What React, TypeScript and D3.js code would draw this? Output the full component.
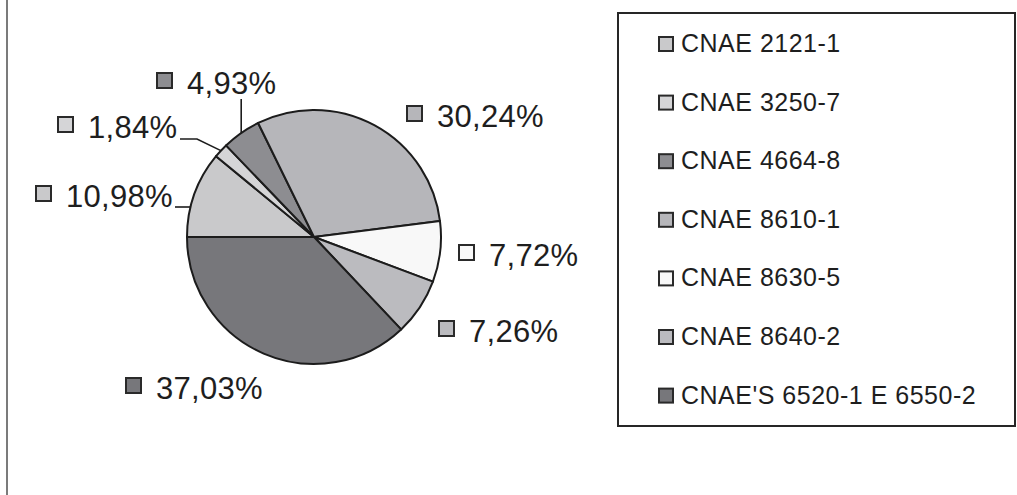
import React from "react";
import * as d3 from "d3";

// Share of each CNAE activity code (percent)
const categories = [
  "CNAE 2121-1",
  "CNAE 3250-7",
  "CNAE 4664-8",
  "CNAE 8610-1",
  "CNAE 8630-5",
  "CNAE 8640-2",
  "CNAE'S 6520-1 E 6550-2",
];
const shares = [10.98, 1.84, 4.93, 30.24, 7.72, 7.26, 37.03];
const fills = ["#c9c9cb", "#d5d5d7", "#8d8d91", "#b6b6ba", "#f8f8f8", "#bbbbbf", "#77777b"];

const W = 1017;
const H = 495;
const CX = 314;
const CY = 237;
const R = 127;
const FONT = "'Liberation Sans', Arial, Helvetica, sans-serif";

// Label placement: text start / baseline, and how each leader line runs
type Leader = "none" | "elbow" | "vertical" | "horizontal";
const labelLayout: { x: number; y: number; leader: Leader; endX?: number }[] = [
  { x: 66, y: 207, leader: "horizontal", endX: 175 },
  { x: 88, y: 138, leader: "elbow", endX: 180 },
  { x: 187, y: 94, leader: "vertical" },
  { x: 437, y: 127, leader: "none" },
  { x: 489, y: 266, leader: "none" },
  { x: 469, y: 342, leader: "none" },
  { x: 156, y: 399, leader: "none" },
];

const fmt = (v: number) => v.toFixed(2).replace(".", ",") + "%";

export default function App() {
  const pie = d3
    .pie<number>()
    .sort(null)
    .value((d) => d)
    .startAngle(1.5 * Math.PI)
    .endAngle(3.5 * Math.PI);
  const arcs = pie(shares);
  const arc = d3.arc<d3.PieArcDatum<number>>().innerRadius(0).outerRadius(R);

  const edgePoint = (a: number): [number, number] => [CX + R * Math.sin(a), CY - R * Math.cos(a)];

  const leaders = arcs.map((a, i) => {
    const lay = labelLayout[i];
    const mid = (a.startAngle + a.endAngle) / 2;
    const [ex, ey] = edgePoint(mid);
    if (lay.leader === "elbow") {
      const sx = lay.endX!;
      const sy = lay.y + 1;
      return d3.line()([
        [sx, sy],
        [sx + 17, sy],
        [ex, ey],
      ]);
    }
    if (lay.leader === "vertical") {
      return d3.line()([
        [ex, lay.y + 5],
        [ex, ey],
      ]);
    }
    if (lay.leader === "horizontal") {
      const y = lay.y;
      const dy = y - CY;
      const x = CX - Math.sqrt(R * R - dy * dy);
      return d3.line()([
        [lay.endX!, y],
        [x, y],
      ]);
    }
    return null;
  });

  const rowStep = 58.6;

  return (
    <svg
      width={W}
      height={H}
      style={{ position: "absolute", left: 0, top: 0, background: "#fff" }}
      fontFamily={FONT}
    >
      {/* chart area edge */}
      <line x1={7} y1={0} x2={7} y2={H} stroke="#5a5a5a" strokeWidth={1.6} />

      {/* slices */}
      <g transform={`translate(${CX},${CY})`}>
        {arcs.map((a, i) => (
          <path key={i} d={arc(a) || ""} fill={fills[i]} stroke="#1c1c1c" strokeWidth={2} strokeLinejoin="round" />
        ))}
      </g>

      {/* leader lines */}
      {leaders.map((d, i) =>
        d ? <path key={i} d={d} fill="none" stroke="#1c1c1c" strokeWidth={1.6} /> : null
      )}

      {/* data labels with colour keys */}
      {shares.map((v, i) => {
        const lay = labelLayout[i];
        return (
          <g key={i}>
            <rect
              x={lay.x - 30}
              y={lay.y - 21}
              width={15}
              height={15}
              fill={fills[i]}
              stroke="#2a2a2a"
              strokeWidth={2}
            />
            <text x={lay.x} y={lay.y} fontSize={31} fill="#1e1e1e" letterSpacing={0.3}>
              {fmt(v)}
            </text>
          </g>
        );
      })}

      {/* legend */}
      <rect x={618} y={13} width={397} height={413} fill="#fff" stroke="#262626" strokeWidth={2} />
      {categories.map((c, i) => {
        const base = 52 + i * rowStep;
        return (
          <g key={c}>
            <rect x={659} y={base - 15} width={14} height={14} fill={fills[i]} stroke="#2a2a2a" strokeWidth={2} />
            <text x={681} y={base} fontSize={25} fill="#1e1e1e" letterSpacing={0.5}>
              {c}
            </text>
          </g>
        );
      })}
    </svg>
  );
}
